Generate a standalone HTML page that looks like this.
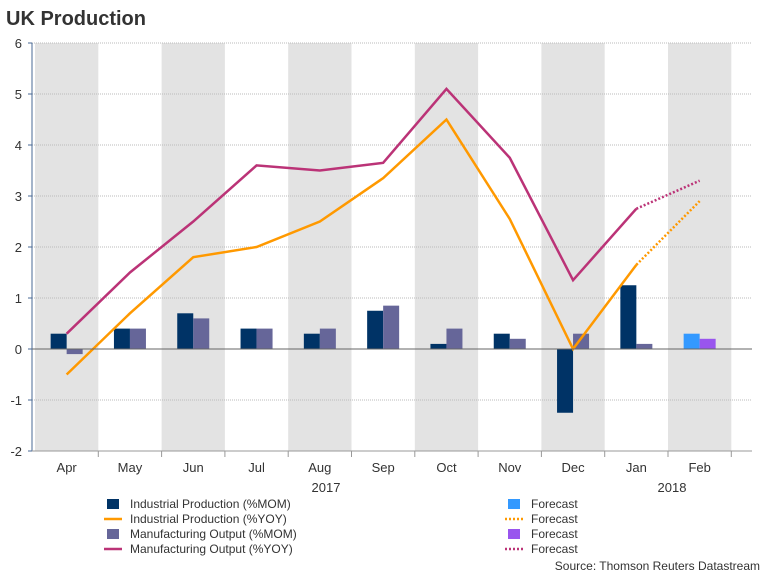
<!DOCTYPE html>
<html><head><meta charset="utf-8"><style>
body{margin:0;width:768px;height:576px;background:#fff;font-family:"Liberation Sans",sans-serif;overflow:hidden}
svg text{font-family:"Liberation Sans",sans-serif}
</style></head><body>
<svg id="c" width="768" height="576">
<text x="6" y="25" font-size="20" font-weight="bold" fill="#333">UK Production</text>
<g id="bands"></g><g id="grid"></g><g id="bars"></g><g id="lines"></g><g id="axes"></g>
<g id="legend" font-size="12" fill="#333"></g>
<text x="760" y="570" font-size="12" fill="#333" text-anchor="end">Source: Thomson Reuters Datastream</text>
</svg>
<script>
const categories=["Apr","May","Jun","Jul","Aug","Sep","Oct","Nov","Dec","Jan","Feb"];
const ipMom=[0.3,0.4,0.7,0.4,0.3,0.75,0.1,0.3,-1.25,1.25,null];
const moMom=[-0.1,0.4,0.6,0.4,0.4,0.85,0.4,0.2,0.3,0.1,null];
const ipMomForecast=[null,null,null,null,null,null,null,null,null,null,0.3];
const moMomForecast=[null,null,null,null,null,null,null,null,null,null,0.2];
const ipYoy=[-0.5,0.7,1.8,2.0,2.5,3.35,4.5,2.55,0.0,1.65,2.9];
const moYoy=[0.3,1.5,2.5,3.6,3.5,3.65,5.1,3.75,1.35,2.75,3.3];
const yTicks=[-2,-1,0,1,2,3,4,5,6];
const NS="http://www.w3.org/2000/svg";
const X0=35,BW=63.3,AXL=32,AXR=752;
const x=i=>X0+BW*(i+0.5);
const y=v=>349-v*51;
function mk(p,t,a){const e=document.createElementNS(NS,t);for(const k in a)e.setAttribute(k,a[k]);document.getElementById(p).appendChild(e);return e;}
categories.forEach((c,i)=>{
 if(i%2===0){const r=mk('bands','rect',{x:X0+BW*i,y:y(6),width:BW,height:y(-2)-y(6),fill:'#e3e3e3'});
 
 }
 const t=mk('axes','text',{x:x(i),y:472,'font-size':13,fill:'#333','text-anchor':'middle'});t.textContent=c;
 
 
 mk('axes','line',{x1:X0+BW*(i+1),x2:X0+BW*(i+1),y1:451,y2:457,stroke:'#999'});
});
yTicks.forEach(v=>{
 if(v!==0&&v!==-2)mk('grid','line',{x1:AXL,x2:AXR,y1:y(v),y2:y(v),stroke:'#bbb','stroke-dasharray':'1,1'});
 mk('axes','line',{x1:AXL-4,x2:AXL,y1:y(v),y2:y(v),stroke:'#4a6a95'});
 const t=mk('axes','text',{x:22,y:y(v)+5,'font-size':13,fill:'#333','text-anchor':'end'});t.textContent=v;
 
 
});
mk('axes','line',{x1:AXL,x2:AXL,y1:y(6),y2:y(-2),stroke:'#4a6a95'});
mk('axes','line',{x1:AXL,x2:AXR,y1:y(-2),y2:y(-2),stroke:'#999'});
mk('axes','line',{x1:AXL,x2:AXR,y1:y(0),y2:y(0),stroke:'#666'});
const yr1=mk('axes','text',{x:326,y:492,'font-size':13,fill:'#333','text-anchor':'middle'});yr1.textContent='2017';


const yr2=mk('axes','text',{x:672,y:492,'font-size':13,fill:'#333','text-anchor':'middle'});yr2.textContent='2018';


function bars(arr,off,col,name){arr.forEach((v,i)=>{if(v===null)return;
 const b=mk('bars','rect',{x:x(i)+off,y:Math.min(y(v),y(0)),width:16,height:Math.abs(y(v)-y(0)),fill:col});
 
 });}
bars(ipMom,-16,'#003366','bar-ip-mom');bars(moMom,0,'#666699','bar-mo-mom');
bars(ipMomForecast,-16,'#3399ff','bar-ip-forecast');bars(moMomForecast,0,'#9955ee','bar-mo-forecast');
function line(arr,col,name){const n=arr.length;
 const pts=arr.slice(0,n-1).map((v,i)=>x(i)+','+y(v)).join(' ');
 const l=mk('lines','polyline',{points:pts,fill:'none',stroke:col,'stroke-width':2.5});
 
 
 const f=mk('lines','line',{x1:x(n-2),y1:y(arr[n-2]),x2:x(n-1),y2:y(arr[n-1]),stroke:col,'stroke-width':2.5,'stroke-dasharray':'2,2'});
 
 }
line(ipYoy,'#ff9900','line-ip-yoy');line(moYoy,'#bb3377','line-mo-yoy');
const leg=[["Industrial Production (%MOM)","bar","#003366"],["Industrial Production (%YOY)","line","#ff9900"],["Manufacturing Output (%MOM)","bar","#666699"],["Manufacturing Output (%YOY)","line","#bb3377"]];
const legF=[["bar","#3399ff"],["dot","#ff9900"],["bar","#9955ee"],["dot","#bb3377"]];
leg.forEach((l,i)=>{const yy=504+i*15;
 if(l[1]==='bar')mk('legend','rect',{x:107,y:yy-5,width:12,height:10,fill:l[2]});
 else mk('legend','line',{x1:104,x2:122,y1:yy,y2:yy,stroke:l[2],'stroke-width':2.5});
 const t=mk('legend','text',{x:130,y:yy+4});t.textContent=l[0];
 
 
 const f=legF[i];
 if(f[0]==='bar')mk('legend','rect',{x:508,y:yy-5,width:12,height:10,fill:f[1]});
 else mk('legend','line',{x1:505,x2:523,y1:yy,y2:yy,stroke:f[1],'stroke-width':2.5,'stroke-dasharray':'2,2'});
 const t2=mk('legend','text',{x:531,y:yy+4});t2.textContent='Forecast';
 
 
});
</script>
</body></html>
